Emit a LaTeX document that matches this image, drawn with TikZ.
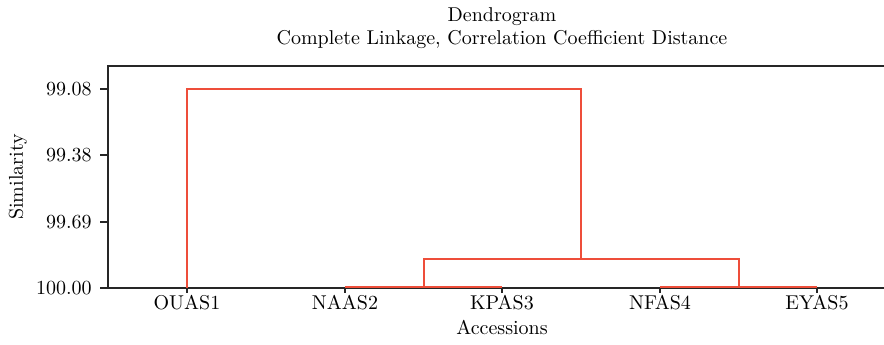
\documentclass[tikz,border=0pt]{standalone}
\usetikzlibrary{positioning}
\definecolor{linkred}{RGB}{238,78,58}
\tikzset{
  axisline/.style={draw=black!85, line width=0.6pt},
  link/.style={draw=linkred, line width=0.6pt},
  ticklab/.style={inner sep=0pt},
}
\begin{document}
\begin{tikzpicture}[x=0.5pt,y=-0.5pt]
  \useasboundingbox (0,0) rectangle (884,344);

  % title
  \node(title) at (502,17) {Dendrogram};
  \node(subtitle) at (502,40) {Complete Linkage, Correlation Coefficient Distance};

  % axes
  \coordinate(topright) at (884,66);
  \coordinate(top) at (108,66);
  \coordinate(org) at (108,288);
  \coordinate(botright) at (884,288);
  \draw[axisline] (topright) -- (top) -- (org) -- (botright);

  \foreach \v/\y in {99.08/89, 99.38/155, 99.69/222, 100.00/288}{
    \coordinate(yt\y) at (100,\y);
    \draw[axisline] (yt\y) -- (108,\y);
    \node[ticklab, left=4pt of yt\y] {\v};
  }
  \node[rotate=90](ylab) at (18,177) {Similarity};

  \foreach \n/\x in {OUAS1/187, NAAS2/345, KPAS3/502, NFAS4/660, EYAS5/817}{
    \coordinate(\n) at (\x,288);
    \draw[axisline] (\n) -- (\x,293);
    \node[ticklab](lab\n) at (\x,303) {\n};
  }
  \node(xlab) at (502,327) {Accessions};

  % merges
  \coordinate(m23) at (424,287);
  \coordinate(m45) at (739,287);
  \coordinate(m2345) at (581,259);
  \coordinate(j2) at (739,259);
  \coordinate(mall) at (581,89);

  \draw[link] (NAAS2) ++(0,-1) -- (KPAS3 |- m23);
  \draw[link] (NFAS4 |- m45) -- (EYAS5 |- m45);
  \draw[link] (m23) |- (j2) -- (m45);
  \draw[link] (OUAS1) |- (mall) -- (m2345);
\end{tikzpicture}
\end{document}
